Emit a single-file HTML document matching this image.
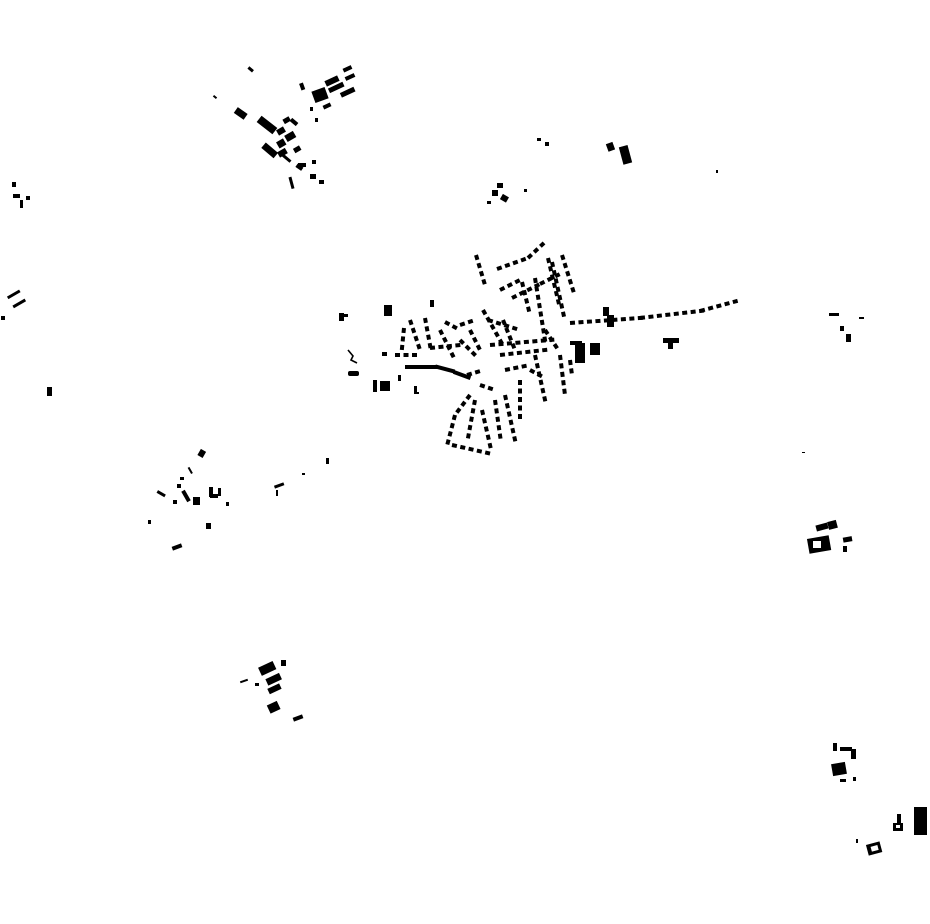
<!DOCTYPE html>
<html><head><meta charset="utf-8"><style>
html,body{margin:0;padding:0;background:#fff;width:930px;height:924px;overflow:hidden}
svg{display:block}
</style></head><body>
<svg id="s" width="930" height="924" viewBox="0 0 930 924" xmlns="http://www.w3.org/2000/svg">
<g fill="#000">
<rect x="235" y="110" width="12" height="7" transform="rotate(35 241 113)"/>
<rect x="257" y="121" width="20" height="8" transform="rotate(38 267 125)"/>
<rect x="262" y="147" width="16" height="7" transform="rotate(40 270 150)"/>
<rect x="277" y="128" width="8" height="6" transform="rotate(-30 281 131)"/>
<rect x="285" y="133" width="10" height="7" transform="rotate(-30 290 136)"/>
<rect x="277" y="140" width="8" height="7" transform="rotate(-30 281 143)"/>
<rect x="278" y="150" width="9" height="6" transform="rotate(-30 282 153)"/>
<rect x="283" y="118" width="7" height="5" transform="rotate(-30 286 120)"/>
<rect x="290" y="120" width="8" height="4" transform="rotate(40 294 122)"/>
<rect x="294" y="147" width="7" height="5" transform="rotate(-30 297 150)"/>
<rect x="296" y="165" width="7" height="4" transform="rotate(35 299 167)"/>
<rect x="282" y="157" width="10" height="3" transform="rotate(40 287 158)"/>
<rect x="298" y="163" width="8" height="4"/>
<rect x="312" y="160" width="4" height="4"/>
<rect x="290" y="177" width="3" height="12" transform="rotate(-15 291 183)"/>
<rect x="310" y="174" width="6" height="5"/>
<rect x="319" y="180" width="5" height="4"/>
<rect x="248" y="68" width="6" height="3" transform="rotate(40 251 69)"/>
<rect x="213" y="96" width="4" height="2" transform="rotate(40 215 97)"/>
<rect x="300" y="83" width="4" height="7" transform="rotate(-20 302 86)"/>
<rect x="313" y="89" width="14" height="12" transform="rotate(-20 320 95)"/>
<rect x="325" y="78" width="14" height="6" transform="rotate(-25 332 81)"/>
<rect x="328" y="85" width="16" height="5" transform="rotate(-25 336 87)"/>
<rect x="343" y="67" width="9" height="4" transform="rotate(-25 347 69)"/>
<rect x="345" y="75" width="10" height="4" transform="rotate(-25 350 77)"/>
<rect x="340" y="90" width="15" height="5" transform="rotate(-25 347 92)"/>
<rect x="323" y="104" width="8" height="4" transform="rotate(-25 327 106)"/>
<rect x="310" y="107" width="3" height="4"/><rect x="315" y="118" width="3" height="4"/>
<rect x="12" y="182" width="4" height="5"/><rect x="13" y="194" width="7" height="4"/><rect x="20" y="200" width="3" height="8"/><rect x="26" y="196" width="4" height="4"/>
<rect x="10" y="292" width="14" height="3" transform="rotate(-30 17 300)"/><rect x="12" y="302" width="14" height="3" transform="rotate(-30 19 303)"/><rect x="1" y="316" width="4" height="4"/>
<rect x="47" y="387" width="5" height="9"/>
<rect x="607" y="143" width="7" height="8" transform="rotate(-20 610 147)"/>
<rect x="621" y="146" width="9" height="18" transform="rotate(-15 625 155)"/>
<rect x="537" y="138" width="4" height="3"/><rect x="545" y="142" width="4" height="4"/>
<rect x="716" y="170" width="2" height="3"/>
<rect x="497" y="183" width="6" height="5"/><rect x="492" y="190" width="6" height="6"/><rect x="501" y="195" width="7" height="6" transform="rotate(30 504 198)"/><rect x="487" y="201" width="4" height="3"/><rect x="524" y="189" width="3" height="3"/>
<rect x="829" y="313" width="10" height="3"/><rect x="859" y="317" width="5" height="2"/><rect x="840" y="326" width="4" height="5"/><rect x="846" y="334" width="5" height="8"/>
<rect x="816" y="524" width="12" height="6" transform="rotate(-15 822 527)"/><rect x="828" y="521" width="9" height="8" transform="rotate(-15 832 525)"/>
<rect x="808" y="537" width="22" height="15" transform="rotate(-10 819 544)"/><rect x="813" y="541" width="8" height="7" fill="#fff"/>
<rect x="843" y="537" width="9" height="5" transform="rotate(-10 847 539)"/><rect x="843" y="546" width="4" height="6"/>
<rect x="802" y="452" width="3" height="1"/>
<rect x="833" y="743" width="4" height="8"/><rect x="840" y="747" width="12" height="4"/><rect x="851" y="749" width="5" height="10"/>
<rect x="832" y="763" width="14" height="12" transform="rotate(-10 839 769)"/><rect x="840" y="779" width="6" height="3"/><rect x="853" y="777" width="3" height="4"/>
<rect x="914" y="807" width="13" height="28"/><rect x="897" y="814" width="4" height="10"/><rect x="893" y="823" width="10" height="8"/><rect x="896" y="825" width="4" height="3" fill="#fff"/>
<rect x="867" y="843" width="14" height="11" transform="rotate(-15 874 848)"/><rect x="871" y="846" width="7" height="5" fill="#fff" transform="rotate(-15 874 848)"/><rect x="856" y="839" width="2" height="4"/>
<rect x="259" y="664" width="16" height="9" transform="rotate(-25 267 668)"/><rect x="281" y="660" width="5" height="6"/>
<rect x="266" y="676" width="15" height="7" transform="rotate(-25 273 679)"/><rect x="268" y="686" width="13" height="6" transform="rotate(-25 274 689)"/>
<rect x="268" y="703" width="11" height="9" transform="rotate(-25 273 707)"/><rect x="293" y="716" width="10" height="4" transform="rotate(-20 298 718)"/>
<rect x="240" y="680" width="8" height="2" transform="rotate(-20 244 681)"/><rect x="255" y="683" width="4" height="3"/>
<rect x="199" y="450" width="6" height="7" transform="rotate(30 202 453)"/>
<rect x="189" y="467" width="2" height="7" transform="rotate(-30 190 470)"/>
<rect x="177" y="484" width="4" height="4"/><rect x="180" y="477" width="4" height="3"/>
<rect x="157" y="492" width="9" height="3" transform="rotate(30 161 493)"/>
<rect x="173" y="500" width="4" height="4"/>
<rect x="184" y="490" width="4" height="12" transform="rotate(-30 186 496)"/>
<rect x="193" y="497" width="7" height="8"/><rect x="209" y="487" width="4" height="10"/><rect x="210" y="494" width="8" height="4"/><rect x="218" y="488" width="3" height="8"/>
<rect x="226" y="502" width="3" height="4"/><rect x="148" y="520" width="3" height="4"/>
<rect x="206" y="523" width="5" height="6"/><rect x="172" y="545" width="10" height="4" transform="rotate(-20 177 547)"/>
<rect x="274" y="484" width="10" height="3" transform="rotate(-20 279 485)"/><rect x="276" y="490" width="2" height="6"/><rect x="302" y="473" width="3" height="2"/><rect x="326" y="458" width="3" height="6"/>
<rect x="384" y="305" width="8" height="11"/><rect x="380" y="381" width="10" height="10"/><rect x="373" y="380" width="4" height="12"/><rect x="398" y="375" width="3" height="6"/>
<rect x="414" y="386" width="3" height="8"/><rect x="414" y="392" width="5" height="2"/>
<rect x="339" y="313" width="5" height="8"/><rect x="342" y="314" width="6" height="3"/>
<rect x="348" y="371" width="11" height="5" rx="2"/>
<path d="M348 350 L353 356 L351 360 L357 363" stroke="#000" stroke-width="1.6" fill="none"/>
<rect x="575" y="343" width="10" height="20"/><rect x="570" y="341" width="12" height="4"/><rect x="590" y="343" width="10" height="12"/>
<rect x="603" y="307" width="6" height="9"/><rect x="607" y="315" width="7" height="12"/>
<rect x="663" y="338" width="16" height="5"/><rect x="668" y="342" width="5" height="7"/>
<rect x="382" y="352" width="5" height="4"/><rect x="430" y="300" width="4" height="7"/>
<rect x="405" y="365" width="32" height="4"/><rect x="435" y="367" width="20" height="4" transform="rotate(15 445 369)"/><rect x="453" y="373" width="18" height="4" transform="rotate(20 462 375)"/>
</g>
<g id="d" fill="#000"></g>
</svg>
<script>
var lines=[
[[476,255],[485,285]],
[[497,269],[528,258],[545,242]],
[[512,298],[540,284],[558,275]],
[[500,290],[520,280]],
[[522,282],[530,315]],[[535,278],[545,340]],[[552,262],[563,312]],[[562,255],[573,290]],
[[548,258],[558,300]],
[[570,323],[640,318],[700,311],[737,301]],
[[483,310],[500,340]],[[488,320],[520,330]],[[503,320],[515,350]],
[[470,330],[480,350]],[[460,340],[475,355]],
[[490,345],[550,340]],[[500,355],[545,350]],
[[410,320],[420,350]],[[425,318],[430,345]],[[404,328],[402,348]],[[440,330],[455,360]],[[445,322],[460,330]],[[395,355],[420,355]],[[430,348],[460,345]],
[[460,325],[475,320]],[[467,375],[477,372]],
[[470,395],[455,415],[448,442]],[[452,445],[492,454]],
[[475,400],[468,438]],[[482,410],[490,445]],[[495,400],[500,435]],[[505,395],[515,440]],
[[520,380],[520,420]],[[535,355],[545,400]],[[530,370],[545,378]],
[[560,355],[565,395]],[[570,360],[572,375]],[[480,385],[495,390]],
[[505,370],[530,365]],[[545,330],[555,345]]
];
var g=document.getElementById('d');
lines.forEach(function(l){
 for(var i=0;i<l.length-1;i++){
  var a=l[i],b=l[i+1],dx=b[0]-a[0],dy=b[1]-a[1],L=Math.hypot(dx,dy),ang=Math.atan2(dy,dx)*180/Math.PI;
  for(var t=0;t<L;t+=8.5){
   var x=a[0]+dx*t/L,y=a[1]+dy*t/L;
   var r=document.createElementNS('http://www.w3.org/2000/svg','rect');
   r.setAttribute('x',x);r.setAttribute('y',y-2);r.setAttribute('width',5);r.setAttribute('height',4);
   r.setAttribute('transform','rotate('+ang+' '+x+' '+y+')');
   g.appendChild(r);
  }
 }
});
</script>
</body></html>
